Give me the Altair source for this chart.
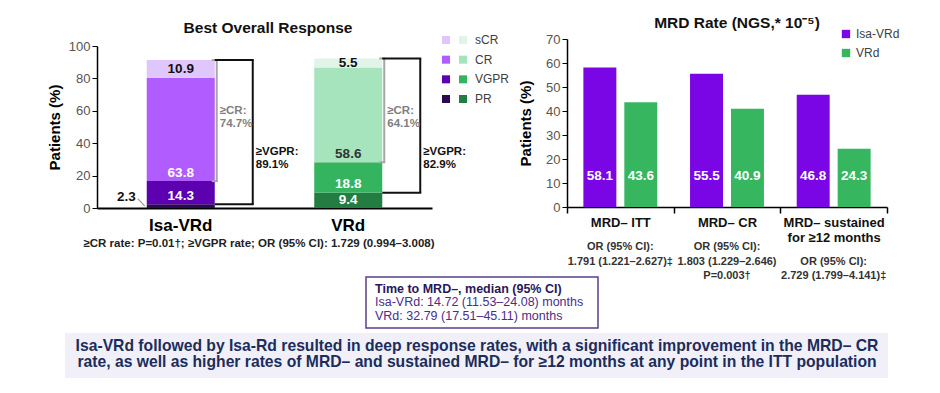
import altair as alt
import pandas as pd
import numpy as np

# ---------------- data ----------------
arms = ["Isa-VRd", "VRd"]
response_cats = ["PR", "VGPR", "CR", "sCR"]          # bottom -> top
legend_cats = ["sCR", "CR", "VGPR", "PR"]
isa_bor = [2.3, 14.3, 63.8, 10.9]
vrd_bor = [9.4, 18.8, 58.6, 5.5]
ge_cr_labels = ["≥CR:\n74.7%", "≥CR:\n64.1%"]
ge_vgpr_labels = ["≥VGPR:\n89.1%", "≥VGPR:\n82.9%"]
bor_title = "Best Overall Response"
bor_note = "≥CR rate: P=0.01†; ≥VGPR rate; OR (95% CI): 1.729 (0.994–3.008)"

mrd_groups = ["MRD– ITT", "MRD– CR", "MRD– sustained for ≥12 months"]
mrd_label_lines = {"MRD– sustained for ≥12 months": ["MRD– sustained", "for ≥12 months"]}
isa_mrd = [58.1, 55.5, 46.8]
vrd_mrd = [43.6, 40.9, 24.3]
or_texts = [
    ["OR (95% CI):", "1.791 (1.221–2.627)‡"],
    ["OR (95% CI):", "1.803 (1.229–2.646)", "P=0.003†"],
    ["OR (95% CI):", "2.729 (1.799–4.141)‡"],
]
mrd_title = "MRD Rate (NGS,* 10⁻⁵)"

box_title = "Time to MRD–, median (95% CI)"
box_lines = ["Isa-VRd: 14.72 (11.53–24.08) months", "VRd: 32.79 (17.51–45.11) months"]
banner_lines = [
    "Isa-VRd followed by Isa-Rd resulted in deep response rates, with a significant improvement in the MRD– CR",
    "rate, as well as higher rates of MRD– and sustained MRD– for ≥12 months at any point in the ITT population",
]

# ---------------- styles ----------------
FONT = "Liberation Sans"
bor_palette = {
    ("Isa-VRd", "sCR"): "#dfc6fd", ("Isa-VRd", "CR"): "#b15cff",
    ("Isa-VRd", "VGPR"): "#5c00b0", ("Isa-VRd", "PR"): "#2a0a50",
    ("VRd", "sCR"): "#e1f4e8", ("VRd", "CR"): "#a5e4bd",
    ("VRd", "VGPR"): "#35b45f", ("VRd", "PR"): "#237c41",
}
arm_colors = ["#7a06e6", "#35b65f"]

# scale geometry (pixels in the canvas)
XL_RANGE, XL_PI, XL_PO = [89, 424], 0.594, 0.297
XR_RANGE, XO_PI, XO_PO = [559, 879], 0.195, 0.4
xl_step = (XL_RANGE[1] - XL_RANGE[0]) / (len(arms) - XL_PI + 2 * XL_PO)
half_bar_L = xl_step * (1 - XL_PI) / 2

# ---------------- tables ----------------
rows = []
for arm, vals in zip(arms, [isa_bor, vrd_bor]):
    lo = 0.0
    for cat, v in zip(response_cats, vals):
        hi = round(lo + v, 2)
        rows.append(dict(arm=arm, cat=cat, value=v, lo=lo, hi=hi, key=f"{arm}|{cat}",
                         label=f"{v:.1f}"))
        lo = hi
bor = pd.DataFrame(rows)
bor["lab_y"] = bor["lo"] + np.minimum(5.2, bor["value"] / 2)
bor["tcol"] = [
    "#111111" if c == "sCR" else ("#333333" if (c == "CR" and a == "VRd") else "white")
    for a, c in zip(bor["arm"], bor["cat"])
]
inside = bor[bor["value"] >= 3]
outside = bor[bor["value"] < 3].copy()
outside["lab_y"] = outside["hi"] + 4.5
outside["lead_y"] = outside["hi"] + 3.5
outside["lead_y2"] = outside["hi"] / 2

def seg(arm, cat, col):
    return float(bor[(bor.arm == arm) & (bor.cat == cat)][col].iloc[0])

br = pd.DataFrame({
    "arm": arms,
    "cr_lo": [seg(a, "CR", "lo") for a in arms],
    "vgpr_lo": [seg(a, "VGPR", "lo") for a in arms],
    "top": [seg(a, "sCR", "hi") for a in arms],
    "ge_cr": ge_cr_labels,
    "ge_vgpr": ge_vgpr_labels,
})
br["cr_txt_y"] = 60
br["vgpr_txt_y"] = 34.5
grey_ends = pd.concat([br[["arm"]].assign(yv=br["cr_lo"]), br[["arm"]].assign(yv=br["top"])])
black_ends = pd.concat([br[["arm"]].assign(yv=br["vgpr_lo"]), br[["arm"]].assign(yv=br["top"])])

mrd = pd.DataFrame(
    [dict(group=g, arm=a, value=v) for a, vals in zip(arms, [isa_mrd, vrd_mrd]) for g, v in zip(mrd_groups, vals)]
)
mrd["label"] = mrd["value"].map(lambda v: f"{v:.1f}")
mrd["lab_y"] = 13

or_rows = []
for g, lines in zip(mrd_groups, or_texts):
    extra = len(mrd_label_lines.get(g, [g])) - 1
    for i, t in enumerate(lines):
        or_rows.append(dict(group=g, line=i + extra, txt=t))
or_df = pd.DataFrame(or_rows)

leg_left = pd.DataFrame([dict(arm=a, cat=c, key=f"{a}|{c}") for a in arms for c in legend_cats])
leg_left_txt = pd.DataFrame({"cat": legend_cats})
leg_right = pd.DataFrame({"arm": arms})

one = lambda **kw: pd.DataFrame({k: [v] for k, v in kw.items()})

# ---------------- scales ----------------
xL = alt.Scale(domain=arms, range=XL_RANGE, paddingInner=XL_PI, paddingOuter=XL_PO)
yL = alt.Scale(domain=[0, 100], range=[200, 38], nice=False)
xR = alt.Scale(domain=mrd_groups, range=XR_RANGE, paddingInner=0, paddingOuter=0)
xo = alt.Scale(type="band", domain=arms, paddingInner=XO_PI, paddingOuter=XO_PO)
yR = alt.Scale(domain=[0, 70], range=[199, 31], nice=False)
bor_color = alt.Scale(domain=[f"{a}|{c}" for (a, c) in bor_palette], range=list(bor_palette.values()))
arm_color = alt.Scale(domain=arms, range=arm_colors)

axis_common = dict(labelFont=FONT, titleFont=FONT, grid=False, domainColor="black",
                   tickColor="black")

# ---------------- left chart ----------------
bars_L = alt.Chart(bor).mark_bar().encode(
    x=alt.X("arm:N", scale=xL, sort=arms, title=None,
            axis=alt.Axis(orient="bottom", offset=-177, ticks=False, labelAngle=0,
                          labelFontSize=17, labelFontWeight="bold", labelColor="black",
                          labelPadding=9, domainWidth=2, **axis_common)),
    y=alt.Y("lo:Q", scale=yL, title="Patients (%)",
            axis=alt.Axis(orient="left", offset=-89, values=[0, 20, 40, 60, 80, 100],
                          titleFontSize=15, titleFontWeight="bold", titleColor="black",
                          labelFontSize=13, labelColor="#555555", tickSize=5,
                          domainWidth=1.5, titlePadding=6, **axis_common)),
    y2="hi:Q",
    color=alt.Color("key:N", scale=bor_color, legend=None),
)

lab_L = alt.Chart(inside).mark_text(font=FONT, fontSize=13.5, fontWeight="bold", baseline="middle").encode(
    x=alt.X("arm:N", scale=xL, axis=None),
    y=alt.Y("lab_y:Q", scale=yL, axis=None),
    text="label:N",
    color=alt.Color("tcol:N", scale=None),
)
lab_out = alt.Chart(outside).mark_text(font=FONT, fontSize=13.5, fontWeight="bold",
                                       baseline="middle", align="right", dx=-half_bar_L - 11,
                                       color="#111111").encode(
    x=alt.X("arm:N", scale=xL, axis=None),
    y=alt.Y("lab_y:Q", scale=yL, axis=None),
    text="label:N",
)
lead = alt.Chart(outside).mark_rule(color="#9a9a9a", strokeWidth=1.2, xOffset=-9, x2Offset=-2).encode(
    x=alt.X("arm:N", scale=xL, axis=None, bandPosition=0),
    x2=alt.X2("arm:N", bandPosition=0),
    y=alt.Y("lead_y:Q", scale=yL, axis=None),
    y2="lead_y2:Q",
)

grey_v = alt.Chart(br).mark_rule(color="#a6a6a6", strokeWidth=2, xOffset=2).encode(
    x=alt.X("arm:N", scale=xL, axis=None, bandPosition=1),
    y=alt.Y("cr_lo:Q", scale=yL, axis=None), y2="top:Q")
grey_h = alt.Chart(grey_ends).mark_rule(color="#a6a6a6", strokeWidth=2, xOffset=-3, x2Offset=3).encode(
    x=alt.X("arm:N", scale=xL, axis=None, bandPosition=1),
    x2=alt.X2("arm:N", bandPosition=1),
    y=alt.Y("yv:Q", scale=yL, axis=None))
black_v = alt.Chart(br).mark_rule(color="#111111", strokeWidth=2, xOffset=38).encode(
    x=alt.X("arm:N", scale=xL, axis=None, bandPosition=1),
    y=alt.Y("vgpr_lo:Q", scale=yL, axis=None), y2="top:Q")
black_h = alt.Chart(black_ends).mark_rule(color="#111111", strokeWidth=2, xOffset=0, x2Offset=39).encode(
    x=alt.X("arm:N", scale=xL, axis=None, bandPosition=1),
    x2=alt.X2("arm:N", bandPosition=1),
    y=alt.Y("yv:Q", scale=yL, axis=None))
cr_txt = alt.Chart(br).mark_text(font=FONT, fontSize=11.5, fontWeight="bold", color="#7f7f7f",
                                 align="left", baseline="middle", dx=half_bar_L + 5,
                                 lineBreak="\n", lineHeight=13).encode(
    x=alt.X("arm:N", scale=xL, axis=None),
    y=alt.Y("cr_txt_y:Q", scale=yL, axis=None), text="ge_cr:N")
vgpr_txt = alt.Chart(br).mark_text(font=FONT, fontSize=11.5, fontWeight="bold", color="#111111",
                                   align="left", baseline="middle", dx=half_bar_L + 41,
                                   lineBreak="\n", lineHeight=13).encode(
    x=alt.X("arm:N", scale=xL, axis=None),
    y=alt.Y("vgpr_txt_y:Q", scale=yL, axis=None), text="ge_vgpr:N")

legL_pts = alt.Chart(leg_left).mark_point(shape="square", filled=True, size=64, opacity=1).encode(
    x=alt.X("arm:N", scale=alt.Scale(type="point", domain=arms, range=[438, 455], padding=0), axis=None),
    y=alt.Y("cat:N", scale=alt.Scale(type="point", domain=legend_cats, range=[32, 91], padding=0), axis=None),
    color=alt.Color("key:N", scale=bor_color, legend=None),
)
legL_txt = alt.Chart(leg_left_txt).mark_text(font=FONT, fontSize=12, color="#404040", align="left",
                                             baseline="middle").encode(
    x=alt.value(467),
    y=alt.Y("cat:N", scale=alt.Scale(type="point", domain=legend_cats, range=[32, 91], padding=0), axis=None),
    text="cat:N",
)
titleL = alt.Chart(one(t=bor_title)).mark_text(font=FONT, fontSize=15.5, fontWeight="bold", color="#111111").encode(
    x=alt.value(260), y=alt.value(20), text="t:N")
noteL = alt.Chart(one(t=bor_note)).mark_text(font=FONT, fontSize=11.5, fontWeight="bold", color="#222222").encode(
    x=alt.value(251), y=alt.value(236), text="t:N")

# ---------------- right chart ----------------
label_expr = " : ".join(
    [f"datum.label == '{k}' ? {v!r}" for k, v in mrd_label_lines.items()] + ["datum.label"]
)
bars_R = alt.Chart(mrd).mark_bar().encode(
    x=alt.X("group:N", scale=xR, sort=mrd_groups, title=None,
            axis=alt.Axis(orient="bottom", offset=-178, tickBand="extent", tickSize=6, tickWidth=1.5,
                          labelAngle=0, labelFontSize=13, labelFontWeight="bold", labelColor="#111111",
                          labelPadding=3, labelLineHeight=15, labelExpr=label_expr, domainWidth=1.5,
                          **axis_common)),
    xOffset=alt.XOffset("arm:N", scale=xo, sort=arms),
    y=alt.Y("value:Q", scale=yR, title="Patients (%)",
            axis=alt.Axis(orient="left", offset=-559, values=list(range(0, 71, 10)),
                          titleFontSize=15, titleFontWeight="bold", titleColor="black",
                          labelFontSize=13, labelColor="#555555", tickSize=5,
                          domainWidth=1.5, titlePadding=12, **axis_common)),
    color=alt.Color("arm:N", scale=arm_color, legend=None),
)
lab_R = alt.Chart(mrd).mark_text(font=FONT, fontSize=13.5, fontWeight="bold", color="white",
                                 baseline="middle").encode(
    x=alt.X("group:N", scale=xR, sort=mrd_groups, axis=None),
    xOffset=alt.XOffset("arm:N", scale=xo, sort=arms),
    y=alt.Y("lab_y:Q", scale=yR, axis=None),
    text="label:N",
)
or_txt = alt.Chart(or_df).mark_text(font=FONT, fontSize=11, fontWeight="bold", color="#333333",
                                    baseline="middle").encode(
    x=alt.X("group:N", scale=xR, sort=mrd_groups, axis=None),
    y=alt.Y("line:Q", scale=alt.Scale(domain=[0, 2], range=[239, 268]), axis=None),
    text="txt:N",
)
legR_pts = alt.Chart(leg_right).mark_point(shape="square", filled=True, size=70, opacity=1).encode(
    x=alt.value(838),
    y=alt.Y("arm:N", scale=alt.Scale(type="point", domain=arms, range=[26, 45], padding=0), axis=None),
    color=alt.Color("arm:N", scale=arm_color, legend=None),
)
legR_txt = alt.Chart(leg_right).mark_text(font=FONT, fontSize=12, color="#404040", align="left",
                                          baseline="middle").encode(
    x=alt.value(848),
    y=alt.Y("arm:N", scale=alt.Scale(type="point", domain=arms, range=[26, 45], padding=0), axis=None),
    text="arm:N",
)
titleR = alt.Chart(one(t=mrd_title)).mark_text(font=FONT, fontSize=15.5, fontWeight="bold", color="#111111").encode(
    x=alt.value(729), y=alt.value(15), text="t:N")

# ---------------- bottom boxes ----------------
box = alt.Chart(one(a=1)).mark_rect(fill="white", stroke="#5b3f8c", strokeWidth=1.5).encode(
    x=alt.value(358), x2=alt.value(590), y=alt.value(269), y2=alt.value(320))
box_t = alt.Chart(one(t=box_title)).mark_text(font=FONT, fontSize=12.5, fontWeight="bold", color="#2a1858",
                                              align="left", baseline="middle").encode(
    x=alt.value(367), y=alt.value(281), text="t:N")
box_l = alt.Chart(one(t="\n".join(box_lines))).mark_text(font=FONT, fontSize=12.5, color="#4b2d8c", align="left",
                                                         baseline="top", lineBreak="\n", lineHeight=14).encode(
    x=alt.value(367), y=alt.value(288), text="t:N")
banner = alt.Chart(one(a=1)).mark_rect(fill="#f1f0f8").encode(
    x=alt.value(57), x2=alt.value(880), y=alt.value(325), y2=alt.value(370))
banner_t = alt.Chart(one(t="\n".join(banner_lines))).mark_text(
    font=FONT, fontSize=15.7, fontWeight="bold", color="#1c2d5c", align="center", baseline="top",
    lineBreak="\n", lineHeight=16).encode(
    x=alt.value(469), y=alt.value(331), text="t:N")

chart = alt.layer(
    bars_L, lab_L, lab_out, lead, grey_v, grey_h, black_v, black_h, cr_txt, vgpr_txt,
    legL_pts, legL_txt, titleL, noteL,
    bars_R, lab_R, or_txt, legR_pts, legR_txt, titleR,
    box, box_t, box_l, banner, banner_t,
).resolve_scale(
    x="independent", y="independent", color="independent", xOffset="independent"
).properties(
    width=924, height=377, autosize=alt.AutoSizeParams(type="none"), padding=0,
    background="white",
).configure_view(stroke=None)

chart.save("out.html", embed_options={"renderer": "svg", "actions": False})
